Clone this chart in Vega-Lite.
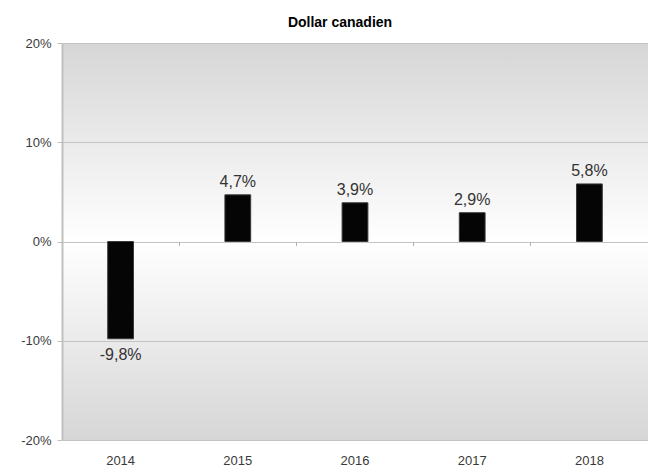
{
  "$schema": "https://vega.github.io/schema/vega-lite/v6.json",
  "autosize": "none",
  "width": 586,
  "height": 397,
  "padding": {"left": 62, "top": 43, "right": 0, "bottom": 28},
  "title": {"text": "Dollar canadien", "fontSize": 14, "fontWeight": "bold", "font": "Liberation Sans", "color": "#000000", "offset": 7, "dx": -15},
  "config": {
    "locale": {"number": {"decimal": ",", "thousands": " ", "grouping": [3], "currency": ["", " €"], "minus": "-"}},
    "view": {"stroke": null, "fill": {"gradient": "linear", "x1": 0, "y1": 0, "x2": 0, "y2": 1, "stops": [{"offset": 0, "color": "#d6d6d6"}, {"offset": 0.5, "color": "#ffffff"}, {"offset": 1, "color": "#d6d6d6"}]}},
    "axis": {"labelFont": "Liberation Sans", "labelFontSize": 13, "labelColor": "#3a3a3a"}
  },
  "data": {"values": [
    {"year": "2014", "value": -0.098},
    {"year": "2015", "value": 0.047},
    {"year": "2016", "value": 0.039},
    {"year": "2017", "value": 0.029},
    {"year": "2018", "value": 0.058}
  ]},
  "encoding": {
    "x": {"field": "year", "type": "ordinal", "scale": {"paddingInner": 0, "paddingOuter": 0}, "axis": null},
    "y": {"field": "value", "type": "quantitative", "scale": {"domain": [-0.2, 0.2], "nice": false, "zero": false}}
  },
  "layer": [
    {
      "mark": {"type": "bar", "color": "#050505", "stroke": "#3a3a3a", "strokeWidth": 1, "width": {"band": 0.22}},
      "encoding": {
        "x": {"field": "year", "type": "ordinal", "axis": {"title": null, "labelAngle": 0, "ticks": false, "domain": false, "labelPadding": 14}},
        "y": {"field": "value", "type": "quantitative", "axis": {"title": null, "format": ".0%", "values": [-0.2, -0.1, 0, 0.1, 0.2], "gridColor": "#c4c4c4", "gridWidth": 1, "domainColor": "#c0c0c0", "domainWidth": 2, "tickColor": "#c0c0c0", "tickSize": 5, "labelPadding": 6}}
      }
    },
    {
      "transform": [{"filter": "datum.value >= 0"}],
      "mark": {"type": "text", "baseline": "bottom", "dy": -5, "font": "Liberation Sans", "fontSize": 16, "color": "#333333"},
      "encoding": {
        "x": {"field": "year", "type": "ordinal", "axis": {"title": null, "orient": "bottom", "offset": -198.5, "labels": false, "domain": false, "ticks": true, "tickSize": 4, "tickColor": "#b0b0b0", "bandPosition": 0, "grid": false}},
        "text": {"field": "value", "type": "quantitative", "format": ".1%"}
      }
    },
    {
      "transform": [{"filter": "datum.value < 0"}],
      "mark": {"type": "text", "baseline": "top", "dy": 8, "font": "Liberation Sans", "fontSize": 16, "color": "#333333"},
      "encoding": {
        "text": {"field": "value", "type": "quantitative", "format": ".1%"}
      }
    }
  ],
  "resolve": {"axis": {"x": "independent"}}
}
